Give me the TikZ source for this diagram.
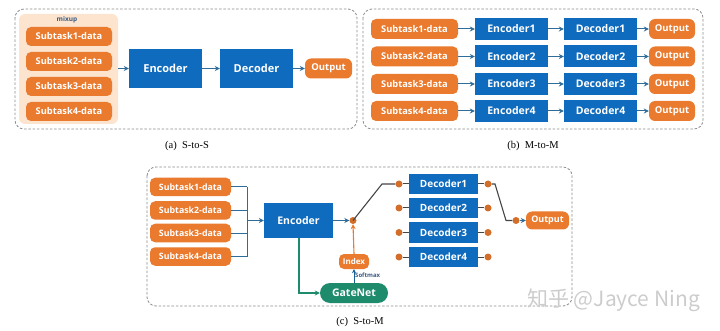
\documentclass[tikz,border=0pt]{standalone}
\usepackage{fontspec}
\setmainfont{Liberation Serif}
\newfontfamily\boxfont{Open Sans}
\newfontfamily\cjkwm{Noto Sans CJK SC}
\usetikzlibrary{arrows.meta}
\definecolor{orng}{HTML}{E97A2E}
\definecolor{mixbgc}{HTML}{FCE4CF}
\definecolor{blu}{HTML}{0F6BBD}
\definecolor{arrc}{HTML}{2F6C98}
\definecolor{swc}{HTML}{454545}
\definecolor{gnet}{HTML}{1D8B6C}
\definecolor{frame}{HTML}{8C8C8C}
\definecolor{lbl}{HTML}{3D5A80}
\begin{document}
\begin{tikzpicture}[x=1pt,y=-1pt,
  panel/.style={draw=frame, dashed, dash pattern=on 2.5pt off 1.8pt, line width=0.8pt, rounded corners=9pt},
  data/.style={fill=orng, text=white, rounded corners=5pt, inner sep=0pt,
    font=\boxfont\bfseries\fontsize{9.3}{11}\selectfont, minimum width=86pt, minimum height=19pt},
  datac/.style={data, minimum width=81pt, minimum height=18.5pt,
    font=\boxfont\bfseries\fontsize{8.8}{10}\selectfont},
  block/.style={fill=blu, text=white, inner sep=0pt,
    font=\boxfont\bfseries\fontsize{11}{13}\selectfont},
  outbox/.style={fill=orng, text=white, rounded corners=6pt, inner sep=0pt,
    font=\boxfont\bfseries\fontsize{9.5}{11}\selectfont, minimum height=20pt},
  arr/.style={draw=arrc, line width=1pt, -{Stealth[length=5pt,width=5pt]}},
  wire/.style={draw=arrc, line width=1pt},
  sw/.style={draw=swc, line width=1.1pt},
  dot/.style={circle, fill=orng!90!black, inner sep=0pt, minimum size=7pt},
  captext/.style={font=\fontsize{10.5}{12}\selectfont}
]
\useasboundingbox (0,0) rectangle (720,331);

% ---------- (a) S-to-S ----------
\draw[panel] (15,9) rectangle (357,129);
\node[fill=mixbgc, rounded corners=6pt, minimum width=99pt, minimum height=110pt,
  inner sep=0pt] (mixbg) at (68.5,69) {};
\node[font=\boxfont\bfseries\fontsize{6.5}{7}\selectfont, text=lbl] (mixlbl) at (67,19.5) {mixup};
\node[data] (a1) at (69,36.5) {Subtask1-data};
\node[data] (a2) at (69,61.5) {Subtask2-data};
\node[data] (a3) at (69,86.5) {Subtask3-data};
\node[data] (a4) at (69,111.5) {Subtask4-data};
\node[block, minimum width=73pt, minimum height=39pt] (encA) at (165.5,68.5) {Encoder};
\node[block, minimum width=73pt, minimum height=39pt] (decA) at (256.5,68.5) {Decoder};
\node[outbox, minimum width=47pt] (outA) at (328.5,68.5) {Output};
\draw[arr] (mixbg.east |- encA) -- (encA.west);
\draw[arr] (encA) -- (decA);
\draw[arr] (decA) -- (outA);
\node[captext] (capA) at (187,146) {(a)\hspace{0.5em}S-to-S};

% ---------- (b) M-to-M ----------
\draw[panel] (363,9) rectangle (703,129);
\foreach \i/\y in {1/29,2/56.5,3/84,4/111}{
  \node[data, minimum width=87pt, minimum height=20pt] (b\i) at (414.5,\y) {Subtask\i-data};
  \node[block, minimum width=73pt, minimum height=22pt,
    font=\boxfont\bfseries\fontsize{10.5}{12}\selectfont] (encB\i) at (511.5,\y) {Encoder\i};
  \node[block, minimum width=73pt, minimum height=22pt,
    font=\boxfont\bfseries\fontsize{10.5}{12}\selectfont] (decB\i) at (600.5,\y) {Decoder\i};
  \node[outbox, minimum width=46pt] (outB\i) at (672,\y) {Output};
  \draw[arr] (b\i) -- (encB\i);
  \draw[arr] (encB\i) -- (decB\i);
  \draw[arr] (decB\i) -- (outB\i);
}
\node[captext] (capB) at (533,146) {(b)\hspace{0.5em}M-to-M};

% ---------- (c) S-to-M ----------
\draw[panel] (147,167) rectangle (572,306);
\node[datac] (c1) at (190.5,187) {Subtask1-data};
\node[datac] (c2) at (190.5,210.5) {Subtask2-data};
\node[datac] (c3) at (190.5,233) {Subtask3-data};
\node[datac] (c4) at (190.5,256.5) {Subtask4-data};
\node[block, minimum width=69pt, minimum height=35pt,
  font=\boxfont\bfseries\fontsize{10.5}{12}\selectfont] (encC) at (298.5,220.5) {Encoder};
\coordinate (bus) at (247,220.5);
\foreach \i in {1,...,4}{ \draw[wire] (c\i.east) -- (bus |- c\i); }
\draw[wire] (bus |- c1) -- (bus |- c4);
\draw[arr] (bus) -- (encC.west);

% gating switch
\node[dot] (s0) at (353,220.5) {};
\draw[arr] (encC.east) -- (s0.west);
\foreach \i/\y in {1/184,2/208,3/232.5,4/257}{
  \node[block, minimum width=69pt, minimum height=20pt,
    font=\boxfont\bfseries\fontsize{10}{12}\selectfont] (decC\i) at (443.5,\y) {Decoder\i};
  \node[dot] (l\i) at (399,\y) {};
  \node[dot] (r\i) at (488,\y) {};
  \draw[swc, line width=1pt] (l\i) -- (decC\i.west);
  \draw[swc, line width=1pt] (decC\i.east) -- (r\i);
}
\coordinate (kneeA) at (382,184);
\draw[sw] (s0.center) -- (kneeA) -- (l1.west);
\node[outbox, minimum width=43pt, minimum height=18pt,
  font=\boxfont\bfseries\fontsize{9}{10}\selectfont] (outC) at (547.5,220.5) {Output};
\node[dot] (so) at (516,220.5) {};
\coordinate (kneeB) at (495,184);
\coordinate (kneeC) at (506,220.5);
\draw[sw] (r1.east) -- (kneeB) -- (kneeC) -- (so.west);
\draw[arr] (so.east) -- (outC.west);

% gate network
\node[fill=orng, text=white, rounded corners=5pt, inner sep=0pt, minimum width=30pt,
  minimum height=15pt, font=\boxfont\bfseries\fontsize{8}{9}\selectfont] (idx) at (354,261.5) {Index};
\node[fill=gnet, text=white, rounded corners=10pt, inner sep=0pt, minimum width=68pt,
  minimum height=20pt, font=\boxfont\bfseries\fontsize{10.5}{12}\selectfont] (gate) at (354,293) {GateNet};
\draw[draw=orng, line width=1.1pt, -{Stealth[length=5pt,width=5pt]}] (idx.north) -- (s0.south);
\draw[draw=gnet!70!blue, line width=1pt, -{Stealth[length=4pt,width=4pt]}] (gate.north) -- (idx.south);
\node[anchor=west, inner sep=0pt, text=lbl, font=\boxfont\bfseries\fontsize{6}{7}\selectfont] (smax) at (355,275) {Softmax};
\draw[draw=gnet, line width=1.1pt, -{Stealth[length=5pt,width=5pt]}] (encC.south -| 299,0) |- (gate.west);
\node[captext] (capC) at (360,322) {(c)\hspace{0.5em}S-to-M};

% watermark
\node[anchor=west, inner sep=0pt, text=gray!40, font=\cjkwm\fontsize{21}{23}\selectfont] (wm) at (527,300) {知乎 @Jayce Ning};
\end{tikzpicture}
\end{document}
